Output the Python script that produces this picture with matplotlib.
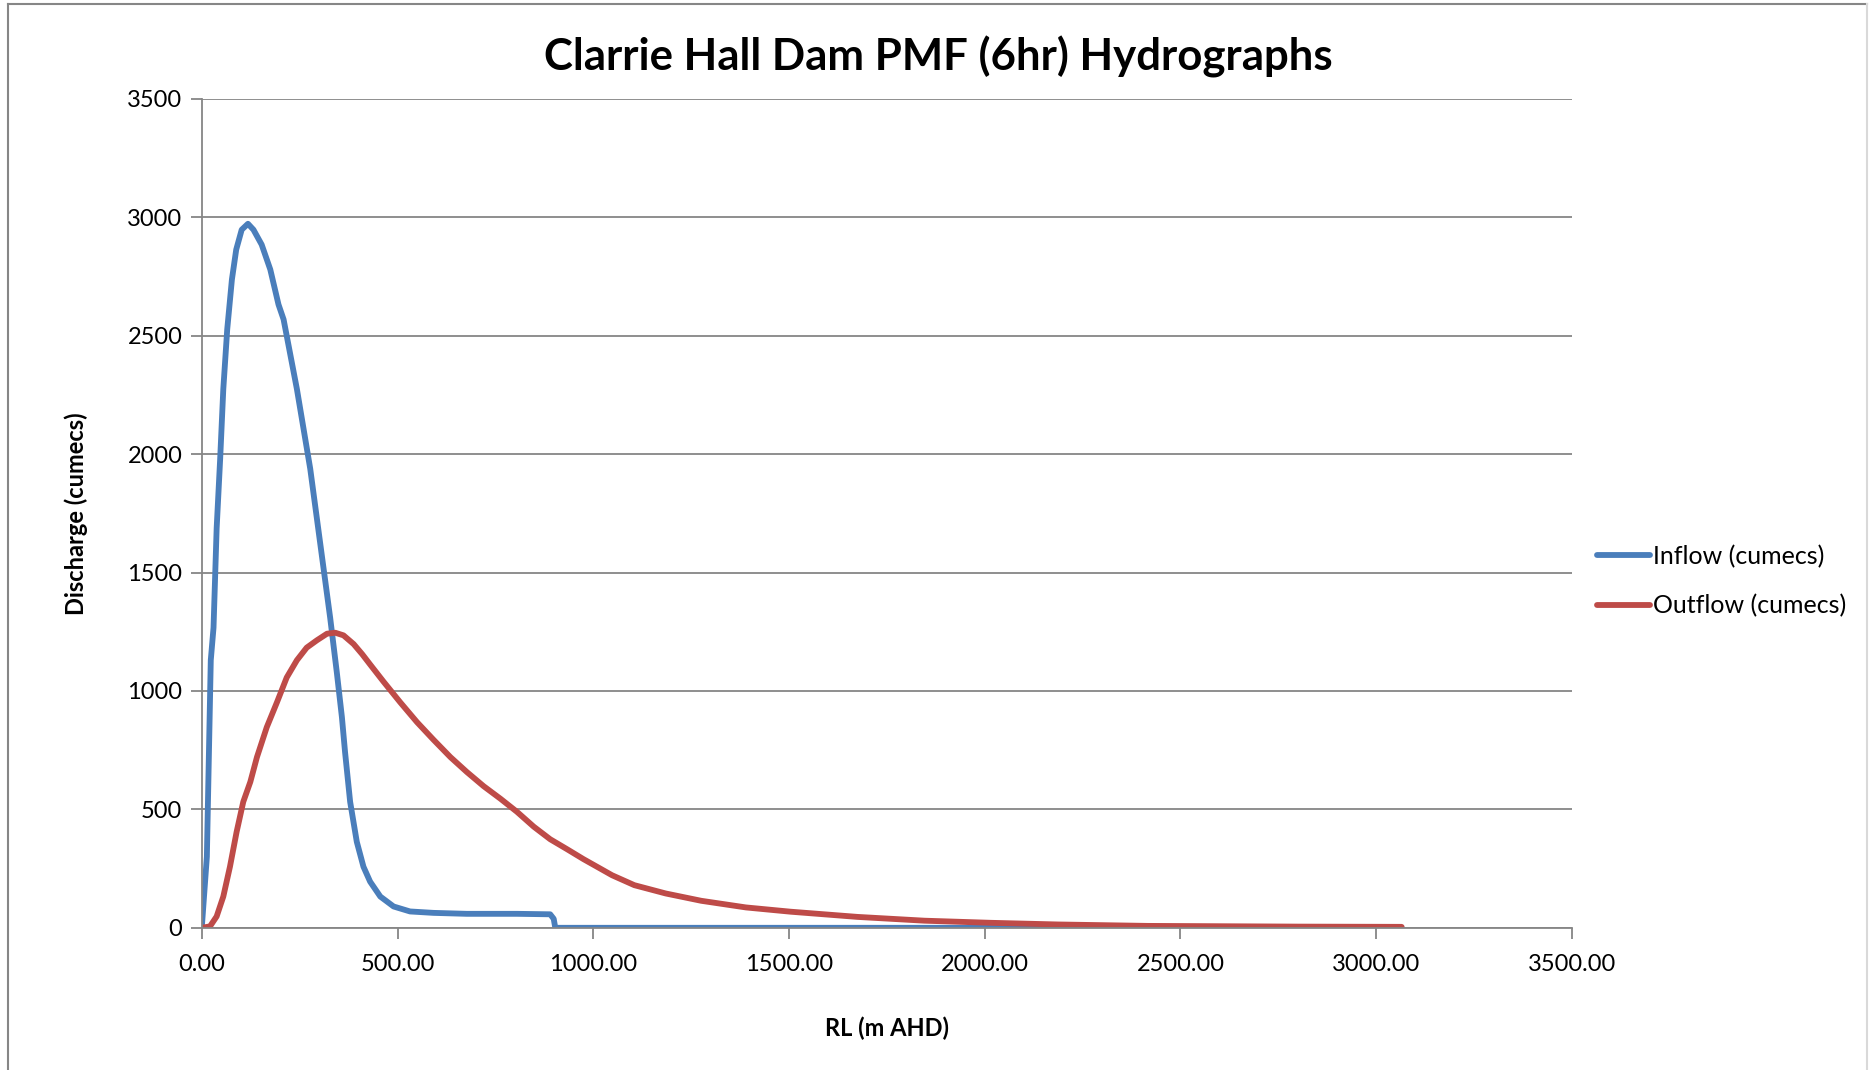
import matplotlib.pyplot as plt
from matplotlib.lines import Line2D

# values
inflow_x = [0, 13, 23, 30, 38, 47, 55, 65, 77, 88, 102, 118, 132, 153, 175, 196, 209,
            226, 243, 260, 277, 294, 311, 328, 345, 358, 366, 379, 396, 413, 430, 456,
            490, 532, 592, 677, 805, 890, 899, 903, 1500, 2000, 2500, 3065]
inflow_y = [0, 300, 1130, 1267, 1687, 1981, 2275, 2527, 2738, 2864, 2948, 2973, 2948,
            2885, 2780, 2632, 2569, 2422, 2275, 2107, 1939, 1729, 1519, 1309, 1078, 889,
            742, 532, 363, 258, 195, 132, 90, 69, 63, 59, 59, 57, 38, 0, 0, 0, 0, 0]

outflow_x = [0, 21, 38, 55, 72, 89, 106, 124, 141, 166, 192, 217, 243, 268, 294, 320,
             341, 362, 388, 410, 430, 464, 507, 550, 592, 635, 677, 720, 763, 805, 848,
             890, 933, 975, 1018, 1048, 1105, 1185, 1276, 1390, 1504, 1675, 1846, 2017,
             2188, 2417, 2551, 2800, 3065]
outflow_y = [0, 6, 48, 132, 258, 405, 532, 616, 721, 847, 952, 1057, 1130, 1183, 1214,
             1242, 1246, 1235, 1198, 1155, 1112, 1040, 952, 868, 794, 721, 658, 598, 545,
             490, 427, 374, 332, 290, 250, 222, 180, 145, 114, 86, 68, 46, 30, 21, 14, 8,
             7, 5, 4]

x_ticks = [0, 500, 1000, 1500, 2000, 2500, 3000, 3500]
y_ticks = [0, 500, 1000, 1500, 2000, 2500, 3000, 3500]

plt.rcParams['font.family'] = ['Lato', 'DejaVu Sans']

fig = plt.figure(figsize=(18.7, 10.7), dpi=100)
ax = fig.add_axes([0.1079, 0.1329, 0.7327, 0.7746])

ax.plot(inflow_x, inflow_y, color='#4A7EBB', linewidth=4.2, label='Inflow (cumecs)',
        solid_joinstyle='round', solid_capstyle='round')
ax.plot(outflow_x, outflow_y, color='#BE4B48', linewidth=4.2, label='Outflow (cumecs)',
        solid_joinstyle='round', solid_capstyle='round')

ax.set_xlim(0, 3500)
ax.set_ylim(0, 3500)
ax.set_xticks(x_ticks)
ax.set_xticklabels([f'{v:.2f}' for v in x_ticks])
ax.set_yticks(y_ticks)
ax.grid(True, axis='y', color='#868686', linewidth=1.3)
ax.set_axisbelow(True)

for side in ['top', 'right']:
    ax.spines[side].set_visible(False)
for side in ['left', 'bottom']:
    ax.spines[side].set_color('#868686')
    ax.spines[side].set_linewidth(1.3)
ax.tick_params(direction='out', length=8, width=1.3, color='#868686',
               labelsize=17, pad=6)
ax.tick_params(axis='x', pad=11)

# title sits centred on the whole chart area, not on the plot box
fig.text(0.502, 0.947, 'Clarrie Hall Dam PMF (6hr) Hydrographs', fontsize=31.5,
         fontweight='bold', ha='center', va='center')
ax.set_xlabel('RL (m AHD)', fontsize=17, fontweight='bold', labelpad=30)
ax.set_ylabel('Discharge (cumecs)', fontsize=17, fontweight='bold', labelpad=28)

ax.legend(loc='center left', bbox_to_anchor=(1.002, 0.418), frameon=False,
          fontsize=18, handlelength=2.1, handletextpad=0.15, labelspacing=1.05)

# chart area border
fig.add_artist(Line2D([8/1870, 8/1870], [0, 1 - 4/1070], transform=fig.transFigure,
                      color='#868686', linewidth=1.5))
fig.add_artist(Line2D([8/1870, 1867/1870], [1 - 4/1070, 1 - 4/1070],
                      transform=fig.transFigure, color='#868686', linewidth=1.5))
fig.add_artist(Line2D([1867/1870, 1867/1870], [0, 1 - 4/1070], transform=fig.transFigure,
                      color='#d9d9d9', linewidth=1.5))

fig.savefig('out.png', dpi=100)
